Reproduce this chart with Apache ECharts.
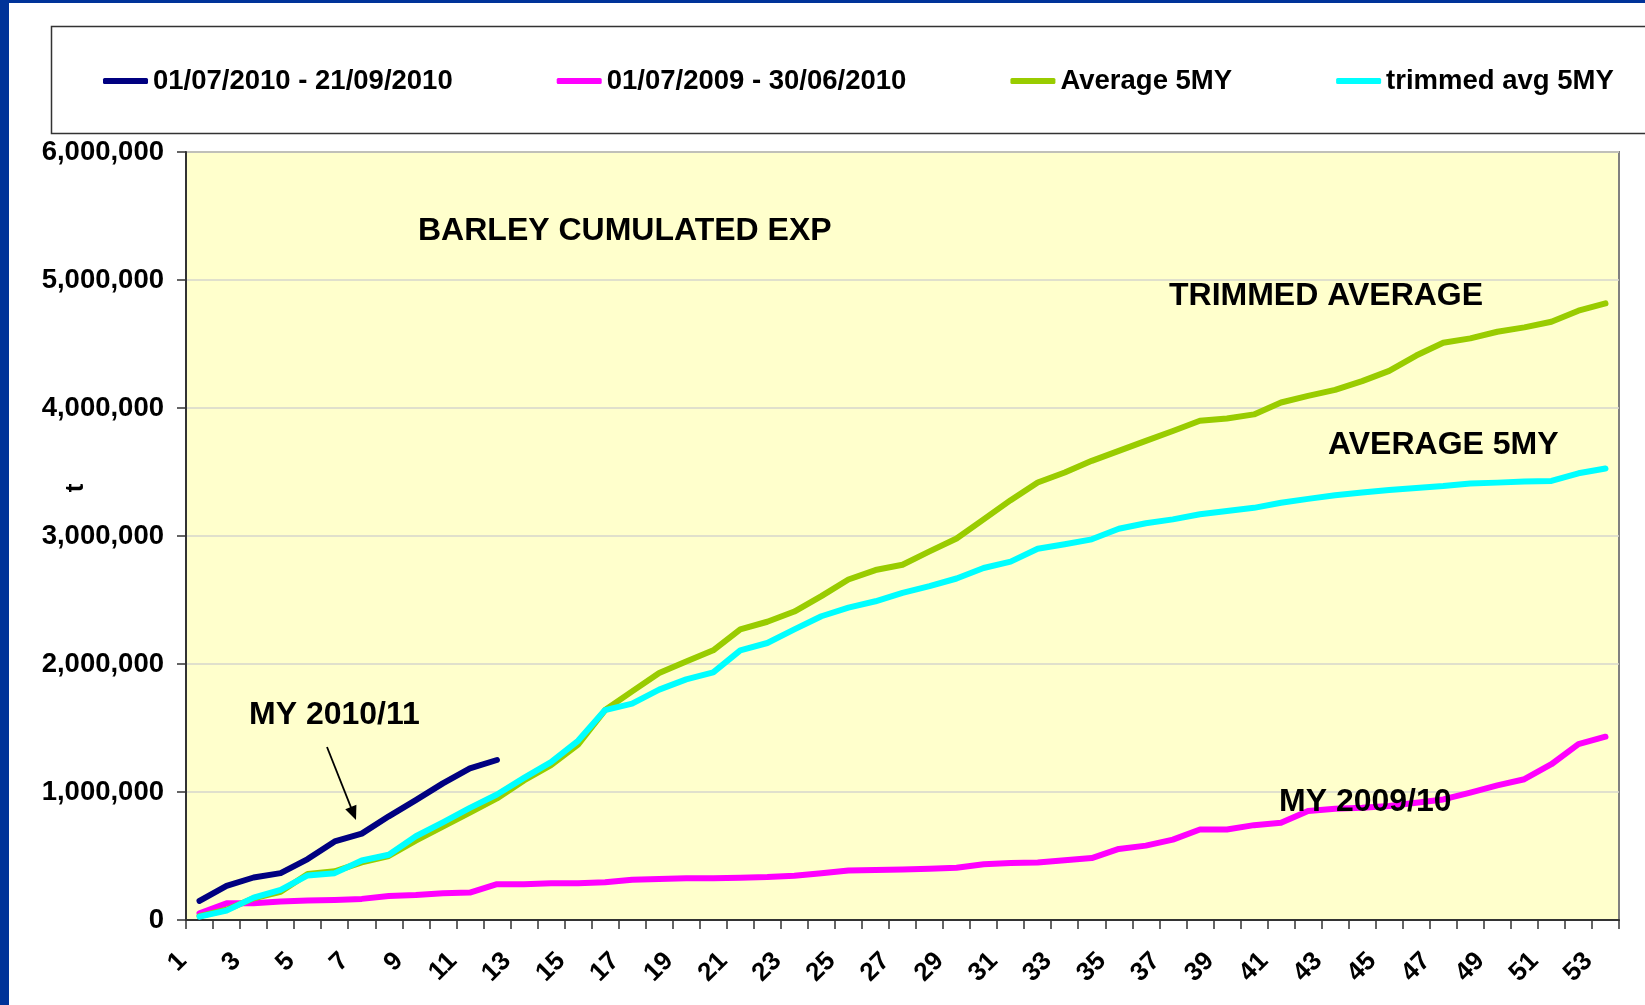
<!DOCTYPE html>
<html>
<head>
<meta charset="utf-8">
<title>Barley cumulated exports</title>
<script src="https://cdn.jsdelivr.net/npm/echarts@6/dist/echarts.min.js"></script>
<style>
  html, body { margin: 0; padding: 0; background: #fff; }
  #chart { width: 1645px; height: 1005px; }
</style>
</head>
<body>
<div id="chart"></div>
<script>
// weeks of the marketing year
var weeks = [];
for (var w = 1; w <= 53; w++) weeks.push(String(w));

// cumulated exports, tonnes
var my2010 = [149000, 267000, 332000, 366000, 476000, 614000, 675000, 810000, 936000, 1067000, 1184000, 1250000];

var my2009 = [52000, 130000, 130000, 144000, 152000, 157000, 165000, 188000, 196000, 209000,
  214000, 280000, 280000, 288000, 288000, 295000, 314000, 320000, 327000, 327000,
  330000, 335000, 345000, 366000, 387000, 390000, 395000, 400000, 408000, 435000,
  445000, 450000, 466000, 484000, 555000, 581000, 628000, 707000, 707000, 741000,
  759000, 851000, 869000, 877000, 890000, 916000, 942000, 995000, 1052000, 1100000,
  1217000, 1374000, 1432000];

var avg5 = [30000, 80000, 170000, 220000, 360000, 380000, 450000, 500000, 620000, 730000,
  840000, 950000, 1090000, 1210000, 1370000, 1640000, 1786000, 1930000, 2020000, 2107000,
  2270000, 2330000, 2410000, 2530000, 2660000, 2734000, 2775000, 2880000, 2980000, 3130000,
  3280000, 3418000, 3496000, 3587000, 3665000, 3743000, 3820000, 3900000, 3918000, 3950000,
  4043000, 4095000, 4142000, 4210000, 4290000, 4410000, 4510000, 4544000, 4596000, 4630000,
  4674000, 4760000, 4817000];

var trimmed5 = [26000, 73000, 175000, 235000, 348000, 366000, 465000, 510000, 654000, 763000,
  876000, 980000, 1110000, 1234000, 1400000, 1640000, 1690000, 1800000, 1880000, 1935000,
  2107000, 2164000, 2270000, 2373000, 2440000, 2490000, 2556000, 2608000, 2668000, 2750000,
  2800000, 2900000, 2935000, 2974000, 3057000, 3100000, 3130000, 3170000, 3196000, 3220000,
  3260000, 3290000, 3318000, 3340000, 3360000, 3375000, 3390000, 3410000, 3417000, 3425000,
  3430000, 3490000, 3527000];

var seriesNames = ['01/07/2010 - 21/09/2010', '01/07/2009 - 30/06/2010', 'Average 5MY', 'trimmed avg 5MY'];
var seriesColors = ['#000080', '#FF00FF', '#99CC00', '#00FFFF'];

var FONT = '"Liberation Sans", Arial, sans-serif';

function lineSeries(name, color, data, z) {
  return {
    name: name,
    type: 'line',
    data: data,
    symbol: 'none',
    z: z,
    color: color,
    lineStyle: { color: color, width: 6, cap: 'round', join: 'round' }
  };
}

function note(text, left, cy) {
  return {
    type: 'text',
    left: left,
    top: cy - 14,
    z: 50,
    style: { text: text, fill: '#000', font: 'bold 32px ' + FONT }
  };
}

// arrow pointing at the current season line
var arrowFrom = [327, 747], arrowTo = [356, 820];
var ang = Math.atan2(arrowTo[1] - arrowFrom[1], arrowTo[0] - arrowFrom[0]);
function headPt(back, side) {
  return [
    arrowTo[0] - back * Math.cos(ang) - side * Math.sin(ang),
    arrowTo[1] - back * Math.sin(ang) + side * Math.cos(ang)
  ];
}

var chart = echarts.init(document.getElementById('chart'), null, { renderer: 'canvas' });

chart.setOption({
  animation: false,
  backgroundColor: '#fff',
  textStyle: { fontFamily: FONT },
  grid: {
    left: 186, top: 152, right: 26, bottom: 85,
    show: true,
    backgroundColor: '#FFFFCC',
    borderColor: '#808080',
    borderWidth: 2
  },
  legend: {
    data: seriesNames,
    left: 103,
    top: 66,
    padding: 0,
    itemGap: 104,
    itemWidth: 45,
    itemHeight: 6,
    icon: 'roundRect',
    textStyle: { fontSize: 27.5, fontWeight: 'bold', color: '#000', fontFamily: FONT, lineHeight: 30 }
  },
  xAxis: {
    type: 'category',
    data: weeks,
    boundaryGap: true,
    axisLine: { lineStyle: { color: '#333', width: 2 } },
    axisTick: { show: true, interval: 0, length: 9, lineStyle: { color: '#333', width: 1.5 } },
    axisLabel: {
      interval: 1,
      rotate: 45,
      margin: 20,
      padding: [0, 24, 0, 0],
      fontSize: 26,
      fontWeight: 'bold',
      color: '#000',
      fontFamily: FONT
    },
    splitLine: { show: false }
  },
  yAxis: {
    type: 'value',
    min: 0,
    max: 6000000,
    interval: 1000000,
    axisLine: { show: true, lineStyle: { color: '#333', width: 2 } },
    axisTick: { show: true, length: 9, lineStyle: { color: '#333', width: 1.5 } },
    axisLabel: {
      margin: 22,
      fontSize: 27.5,
      fontWeight: 'bold',
      color: '#000',
      fontFamily: FONT,
      formatter: function (v) { return v.toLocaleString('en-US'); }
    },
    splitLine: { lineStyle: { color: '#d6d6cc', width: 1.5 } }
  },
  series: [
    lineSeries(seriesNames[0], seriesColors[0], my2010, 6),
    lineSeries(seriesNames[1], seriesColors[1], my2009, 3),
    lineSeries(seriesNames[2], seriesColors[2], avg5, 4),
    lineSeries(seriesNames[3], seriesColors[3], trimmed5, 5)
  ],
  graphic: [
    // slide frame
    { type: 'rect', left: 0, top: 0, z: 100, shape: { width: 9, height: 1005 }, style: { fill: '#003399' } },
    { type: 'rect', left: 0, top: 0, z: 100, shape: { width: 1645, height: 3 }, style: { fill: '#003399' } },
    // legend box
    { type: 'rect', left: 49, top: 24, z: 1, shape: { width: 1700, height: 107 },
      style: { fill: 'none', stroke: '#333', lineWidth: 1.5 } },
    // unit of the value axis
    { type: 'text', x: 76, y: 488, rotation: Math.PI / 2, z: 50,
      style: { text: 't', fill: '#000', font: 'bold 26px ' + FONT, align: 'center', verticalAlign: 'middle' } },
    note('BARLEY CUMULATED EXP', 418, 229),
    note('TRIMMED AVERAGE', 1169, 294),
    note('AVERAGE 5MY', 1328, 443),
    note('MY 2010/11', 249, 713),
    note('MY 2009/10', 1279, 800),
    {
      type: 'line', z: 50,
      shape: { x1: arrowFrom[0], y1: arrowFrom[1], x2: headPt(8, 0)[0], y2: headPt(8, 0)[1] },
      style: { stroke: '#000', lineWidth: 1.8 }
    },
    {
      type: 'polygon', z: 50,
      shape: { points: [arrowTo, headPt(14, -6), headPt(14, 6)] },
      style: { fill: '#000' }
    }
  ]
});
</script>
</body>
</html>
